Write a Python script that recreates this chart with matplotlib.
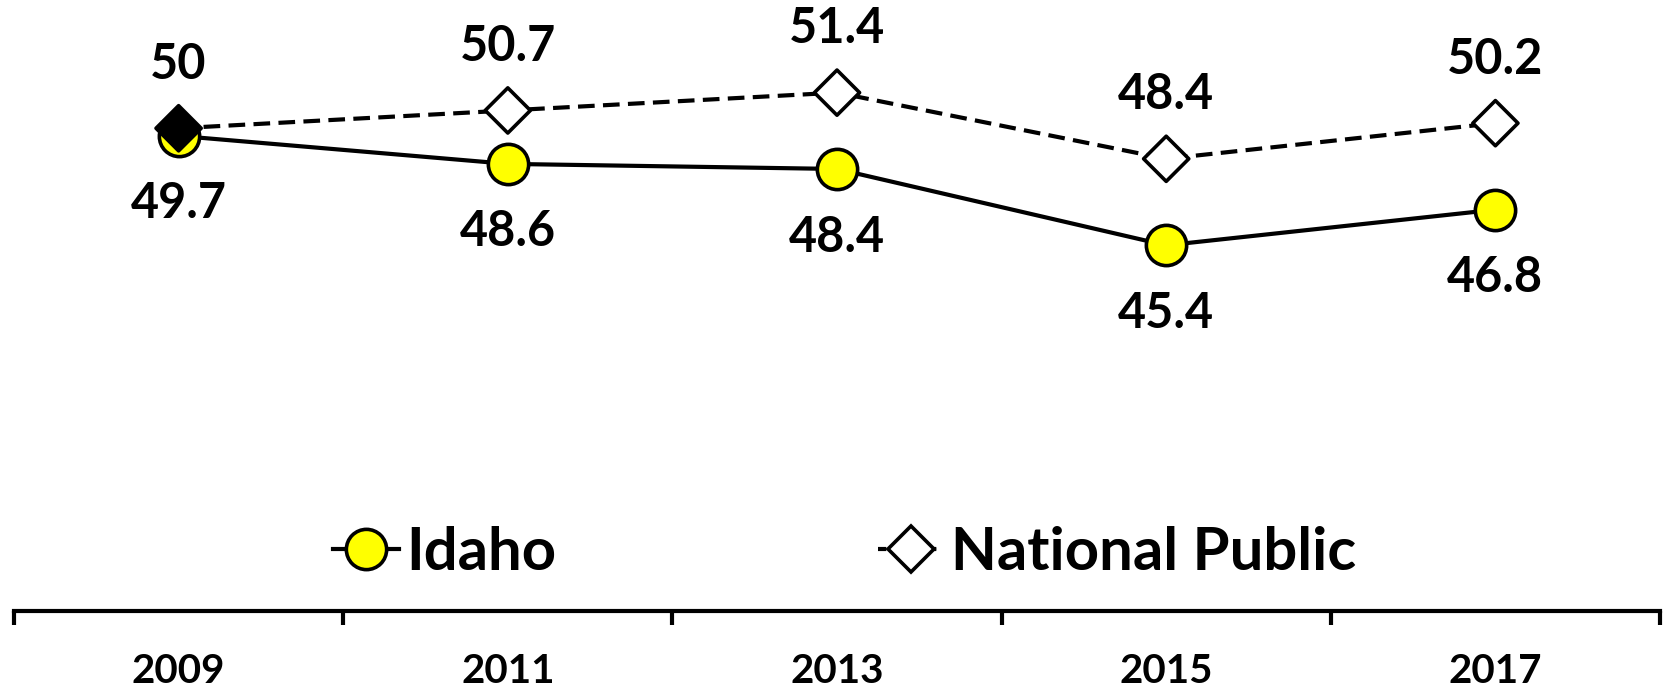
"""Idaho vs National Public line chart, 2009-2017."""

import matplotlib

matplotlib.use("Agg")
import matplotlib.pyplot as plt
from matplotlib.lines import Line2D

YEARS = ["2009", "2011", "2013", "2015", "2017"]
IDAHO = [49.7, 48.6, 48.4, 45.4, 46.8]
IDAHO_LABELS = ["49.7", "48.6", "48.4", "45.4", "46.8"]
NATIONAL = [50.0, 50.7, 51.4, 48.8, 50.2]
NATIONAL_LABELS = ["50", "50.7", "51.4", "48.4", "50.2"]
NATIONAL_FILLED = [True, False, False, False, False]

W, H = 1663, 694
LW = 3.0
DASH = (0, (4.0, 2.0))
plt.rcParams["font.family"] = ["Lato", "DejaVu Sans"]
plt.rcParams["font.weight"] = "bold"

fig = plt.figure(figsize=(W / 100, H / 100), dpi=100)
left, right = 14 / W, 1660 / W
bottom = (H - 611) / H
ax = fig.add_axes([left, bottom, right - left, 1 - bottom])

x = list(range(len(YEARS)))
ax.plot(x, IDAHO, color="black", lw=LW, marker="o", ms=29,
        mfc="#FFFF00", mec="black", mew=2.6, zorder=3)
ax.plot(x, NATIONAL, color="black", lw=LW, ls=DASH, zorder=4)
ax.scatter(x, NATIONAL, marker="D", s=23 ** 2, linewidths=2.6, edgecolors="black",
           facecolors=["black" if f else "white" for f in NATIONAL_FILLED], zorder=5)

for xi, v, lab in zip(x, IDAHO, IDAHO_LABELS):
    ax.annotate(lab, (xi, v), xytext=(0, -49), textcoords="offset points",
                ha="center", va="center", fontsize=35, fontweight="bold")
for xi, v, lab in zip(x, NATIONAL, NATIONAL_LABELS):
    ax.annotate(lab, (xi, v), xytext=(0, 46), textcoords="offset points",
                ha="center", va="center", fontsize=35, fontweight="bold")

ax.set_xlim(-0.5, len(YEARS) - 0.5)
ax.set_ylim(31.03, 55.04)
for side in ("left", "right", "top"):
    ax.spines[side].set_visible(False)
ax.spines["bottom"].set_linewidth(3)
ax.set_yticks([])
ax.set_xticks([i - 0.5 for i in range(len(YEARS) + 1)], minor=False)
ax.set_xticklabels([])
ax.tick_params(axis="x", which="major", direction="out", length=10, width=3)
ax.set_xticks(x, minor=True)
ax.set_xticklabels(YEARS, minor=True, fontsize=29, fontweight="bold")
ax.tick_params(axis="x", which="minor", length=0, pad=30)

handles = [
    Line2D([], [], color="black", lw=LW, marker="o", ms=29, mfc="#FFFF00",
           mec="black", mew=2.6),
    Line2D([], [], color="black", lw=LW, ls=(0, (2.0, 2.0)), marker="D", ms=23,
           mfc="white", mec="black", mew=2.6),
]
fig.legend(handles, ["Idaho", "National Public"], loc="center",
           bbox_to_anchor=(0.508, (H - 553) / H), ncol=2, frameon=False,
           prop={"size": 43, "weight": "bold"}, handlelength=1.1,
           handletextpad=0.12, columnspacing=5.4)

fig.savefig("out.png", dpi=100)
